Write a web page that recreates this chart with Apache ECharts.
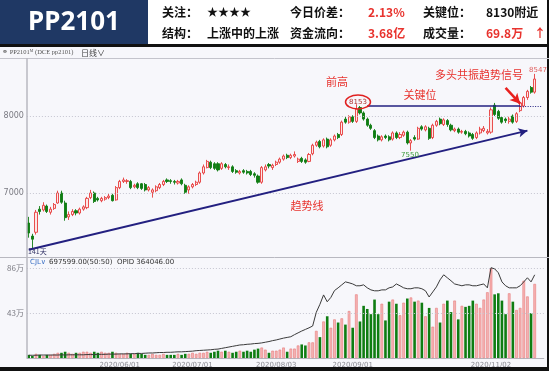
<!DOCTYPE html>
<html><head><meta charset="utf-8">
<script src="https://cdn.jsdelivr.net/npm/echarts@6/dist/echarts.min.js"></script>
<style>html,body{margin:0;padding:0;background:#f7f7fb}#c{width:549px;height:371px}</style>
</head><body><div id="c"></div>
<script>
const dates = [
'2020/04/22','2020/04/23','2020/04/24','2020/04/27','2020/04/28','2020/04/29','2020/04/30',
'2020/05/06','2020/05/07','2020/05/08','2020/05/11','2020/05/12','2020/05/13','2020/05/14','2020/05/15','2020/05/18','2020/05/19','2020/05/20','2020/05/21','2020/05/22','2020/05/25','2020/05/26','2020/05/27','2020/05/28','2020/05/29',
'2020/06/01','2020/06/02','2020/06/03','2020/06/04','2020/06/05','2020/06/08','2020/06/09','2020/06/10','2020/06/11','2020/06/12','2020/06/15','2020/06/16','2020/06/17','2020/06/18','2020/06/19','2020/06/22','2020/06/23','2020/06/24','2020/06/29','2020/06/30',
'2020/07/01','2020/07/02','2020/07/03','2020/07/06','2020/07/07','2020/07/08','2020/07/09','2020/07/10','2020/07/13','2020/07/14','2020/07/15','2020/07/16','2020/07/17','2020/07/20','2020/07/21','2020/07/22','2020/07/23','2020/07/24','2020/07/27','2020/07/28','2020/07/29','2020/07/30','2020/07/31',
'2020/08/03','2020/08/04','2020/08/05','2020/08/06','2020/08/07','2020/08/10','2020/08/11','2020/08/12','2020/08/13','2020/08/14','2020/08/17','2020/08/18','2020/08/19','2020/08/20','2020/08/21','2020/08/24','2020/08/25','2020/08/26','2020/08/27','2020/08/28','2020/08/31',
'2020/09/01','2020/09/02','2020/09/03','2020/09/04','2020/09/07','2020/09/08','2020/09/09','2020/09/10','2020/09/11','2020/09/14','2020/09/15','2020/09/16','2020/09/17','2020/09/18','2020/09/21','2020/09/22','2020/09/23','2020/09/24','2020/09/25','2020/09/28','2020/09/29','2020/09/30',
'2020/10/09','2020/10/12','2020/10/13','2020/10/14','2020/10/15','2020/10/16','2020/10/19','2020/10/20','2020/10/21','2020/10/22','2020/10/23','2020/10/26','2020/10/27','2020/10/28','2020/10/29','2020/10/30',
'2020/11/02','2020/11/03','2020/11/04','2020/11/05','2020/11/06','2020/11/09','2020/11/10','2020/11/11','2020/11/12','2020/11/13','2020/11/16','2020/11/17','2020/11/18'
];
const opens = [6610,6440,6490,6790,6780,6830,6750,6800,6870,7000,6870,6690,6720,6770,6740,6790,6810,6940,7000,6930,6900,6920,6940,6970,6910,7070,7150,7150,7150,7080,7120,7120,7110,7040,7010,7030,7070,7110,7170,7160,7150,7130,7170,7100,7040,7080,7110,7140,7260,7330,7400,7380,7380,7320,7370,7330,7340,7290,7260,7290,7280,7280,7250,7220,7140,7300,7370,7330,7370,7400,7440,7490,7460,7480,7410,7450,7430,7410,7510,7620,7670,7610,7700,7620,7690,7760,7760,7960,7920,7990,7930,8110,8040,7960,7880,7810,7740,7690,7740,7730,7700,7780,7720,7750,7790,7650,7720,7700,7860,7820,7840,7720,7880,7960,7890,7940,7880,7810,7830,7790,7800,7780,7760,7720,7780,7810,7780,7790,8140,8060,7980,7960,7930,8000,7930,8070,8130,8240,8370,8310];
const closes = [6480,6400,6750,6760,6840,6760,6790,6850,7000,6880,6680,6720,6760,6740,6790,6820,6930,7000,6890,6910,6930,6940,6960,6900,7070,7150,7170,7160,7070,7100,7070,7060,7040,7070,7040,7080,7110,7150,7150,7150,7140,7150,7120,7010,7080,7110,7140,7260,7340,7410,7330,7320,7300,7380,7340,7340,7280,7270,7280,7270,7260,7240,7230,7140,7330,7340,7350,7360,7400,7440,7480,7460,7490,7500,7440,7410,7400,7500,7620,7660,7600,7690,7600,7690,7740,7720,7920,7920,7990,7930,8090,8040,7960,7880,7840,7720,7690,7730,7720,7690,7780,7720,7760,7790,7650,7680,7700,7840,7830,7860,7710,7880,7930,7900,7950,7890,7820,7830,7790,7800,7770,7740,7710,7780,7830,7840,7800,8080,8020,7970,7920,7940,7960,7920,8030,8170,8240,8320,8310,8480];
const lows = [6420,6280,6460,6720,6760,6740,6720,6780,6860,6860,6640,6650,6700,6710,6720,6770,6790,6920,6870,6890,6880,6900,6920,6890,6900,7050,7130,7120,7050,7060,7050,7040,7020,7020,6940,7010,7050,7090,7130,7120,7110,7110,7100,6990,6990,7060,7090,7120,7240,7320,7310,7300,7280,7300,7320,7300,7260,7250,7240,7250,7240,7220,7200,7120,7120,7280,7320,7300,7350,7380,7420,7440,7440,7460,7390,7390,7380,7400,7490,7600,7580,7590,7580,7600,7670,7700,7740,7900,7900,7910,7910,8020,7940,7860,7820,7700,7670,7670,7700,7670,7680,7700,7700,7730,7630,7550,7680,7690,7810,7800,7690,7700,7860,7880,7870,7860,7800,7790,7770,7770,7750,7720,7690,7700,7760,7790,7760,7770,8000,7950,7900,7910,7900,7900,7910,8050,8110,8210,8290,8290];
const highs = [6690,6470,6780,6830,6880,6850,6820,6870,7030,7030,6900,6760,6790,6790,6810,6840,6950,7040,7020,6950,6950,6960,6990,6990,7090,7170,7200,7180,7170,7120,7140,7130,7130,7090,7060,7100,7130,7170,7190,7180,7170,7170,7190,7120,7100,7130,7160,7280,7370,7430,7420,7400,7400,7400,7390,7370,7360,7310,7300,7310,7300,7300,7270,7240,7350,7370,7390,7380,7420,7460,7500,7510,7510,7540,7460,7470,7450,7520,7640,7680,7690,7710,7720,7710,7760,7780,7940,7990,8010,8010,8153,8130,8060,7980,7900,7830,7760,7750,7760,7750,7800,7800,7790,7810,7810,7700,7750,7860,7880,7880,7860,7900,7950,7980,7970,7960,7900,7850,7850,7820,7820,7800,7780,7800,7860,7870,7830,8110,8170,8080,8000,7980,7990,8020,8050,8190,8260,8340,8390,8547];
const volumes = [3,2,4,3,2,3,3,4,5,5,6,5,4,5,5,6,6,5,6,5,6,5,5,6,5,4,4,5,4,4,5,4,3,3,4,3,3,4,3,3,3,4,3,4,4,5,4,5,5,6,5,6,7,6,7,6,5,6,7,6,7,6,8,9,10,8,
5,7,7,8,10,6,9,9,12,13,12,15,15,26,20,35,40,29,37,34,38,32,45,29,61,35,50,47,42,56,42,52,36,54,56,52,41,53,57,58,54,55,53,40,48,30,48,34,52,55,44,55,37,50,49,50,55,52,48,56,63,86,61,62,55,42,62,54,46,48,74,59,43,71];
const openInterest = [1.2,1.2,1.2,1.3,1.3,1.3,1.3,1.3,1.3,1.4,1.3,1.4,1.4,1.4,1.4,1.4,1.5,1.5,1.5,1.6,1.6,1.6,1.7,1.7,1.7,1.8,1.8,1.8,1.9,1.9,2.0,2.0,2.1,2.2,2.2,2.3,2.4,2.4,2.5,2.5,2.6,2.7,2.7,2.8,2.9,3.0,3.2,3.3,3.4,3.5,3.6,3.8,3.9,4.2,4.5,4.8,5.1,5.4,5.7,5.8,6.0,6.1,6.3,6.4,6.6,6.9,7.2,7.6,7.9,8.3,8.7,9.0,9.3,10.2,11.0,11.8,12.5,13.2,14.0,20.0,23.5,27.6,24.6,26.5,29.5,30.7,32.0,33.3,32.9,32.4,31.6,31.6,32.0,30.7,29.8,29.4,29.4,29.8,29.8,30.7,31.1,32.4,31.6,30.7,30.3,30.3,30.7,30.7,30.3,29.4,26.7,28.9,31.1,34.2,36.4,35.1,33.8,32.4,32.0,31.6,32.0,32.0,31.6,31.6,32.0,32.4,30.7,39.5,39.0,37.3,33.3,31.6,30.7,30.7,30.7,31.6,33.3,35.1,33.3,36.4];
const priceTicks = [7000, 8000];
const volTicks = [43, 86];
const dateLabels = ['2020/06/01','2020/07/01','2020/08/03','2020/09/01','2020/11/02'];
const keyLevel = 8130;
const trendStart = [0, 6262];
const trendEnd = [137, 7810];

const cats = dates.concat(['', '']);
const RED = '#e8332e';
const CJK = '"Noto Sans CJK SC","Noto Sans",sans-serif';

const chart = echarts.init(document.getElementById('c'), null, {renderer: 'canvas'});
const candleData = dates.map((d, i) => [opens[i], closes[i], lows[i], highs[i]]);
const volData = volumes.map((v, i) => ({
  value: v,
  itemStyle: closes[i] >= opens[i]
    ? {color: '#f6b4b4', borderColor: '#e77b7b', borderWidth: 0.6}
    : {color: '#0f7d12'}
}));

function txt(x, y, text, size, fill, align, weight, font) {
  return {type: 'text', z: 100, silent: true,
    style: {x, y, text, fill, textAlign: align || 'left', textVerticalAlign: 'middle',
      font: (weight || 'normal') + ' ' + size + 'px ' + (font || CJK)}};
}

const option = {
  animation: false,
  backgroundColor: '#f7f7fb',
  grid: [
    {left: 26.9, width: 516.9, top: 39, height: 231, containLabel: false},
    {left: 26.9, width: 516.9, top: 262, height: 96, containLabel: false}
  ],
  xAxis: [
    {type: 'category', gridIndex: 0, data: cats, show: false},
    {type: 'category', gridIndex: 1, data: cats,
      axisLine: {show: true, lineStyle: {color: '#b4b4bc'}},
      axisTick: {show: false}, splitLine: {show: false},
      axisLabel: {interval: (idx, val) => dateLabels.includes(val), fontSize: 7, color: '#8a8a92', margin: 4,
        fontFamily: 'DejaVu Sans'}}
  ],
  yAxis: [
    {type: 'value', gridIndex: 0, min: 6000, max: 9000, interval: 1000, scale: false,
      axisLine: {show: false}, axisTick: {show: false}, splitLine: {show: false},
      axisLabel: {fontSize: 8, color: '#7a7a82', margin: 3, showMinLabel: false, showMaxLabel: false,
        formatter: v => String(v), fontFamily: 'DejaVu Sans'}},
    {type: 'value', gridIndex: 1, min: 0, max: 92, interval: 43,
      axisLine: {show: false}, axisTick: {show: false}, splitLine: {show: false},
      axisLabel: {fontSize: 8, color: '#7a7a82', margin: 3, showMinLabel: false, showMaxLabel: false,
        formatter: v => v + '万', fontFamily: CJK}},
    {type: 'value', gridIndex: 1, min: 0, max: 42, show: false, splitLine: {show: false}}
  ],
  series: [
    {type: 'candlestick', xAxisIndex: 0, yAxisIndex: 0, data: candleData, barWidth: 2.6,
      itemStyle: {color: '#fde6e6', color0: '#0f7d12', borderColor: '#e63b3b', borderColor0: '#0f7d12', borderWidth: 0.9},
      markLine: {silent: true, animation: false, symbol: 'none', label: {show: false},
        data: [
          ...priceTicks.map(p => ({yAxis: p, lineStyle: {type: [1, 2], color: '#c6c6d0', width: 1}})),
          [{coord: trendStart, symbol: 'none'}, {coord: trendEnd, symbol: 'arrow', symbolSize: [7, 9],
            lineStyle: {color: '#232080', width: 2, type: 'solid'}}],
          [{coord: [93, keyLevel], symbol: 'none'}, {coord: [135, keyLevel], symbol: 'none',
            lineStyle: {color: '#232080', width: 1.5, type: 'solid'}}],
          [{coord: [135, keyLevel], symbol: 'none'}, {coord: [141, keyLevel], symbol: 'none',
            lineStyle: {color: '#232080', width: 1, type: [1, 1.5]}}],
          [{coord: [131, 8364], symbol: 'none'}, {coord: [135, 8160], symbol: 'arrow', symbolSize: [8, 10],
            lineStyle: {color: '#e8201e', width: 2.5, type: 'solid'}}]
        ]}
    },
    {type: 'bar', xAxisIndex: 1, yAxisIndex: 1, data: volData, barWidth: 2.6,
      markLine: {silent: true, animation: false, symbol: 'none', label: {show: false},
        data: volTicks.map(v => ({yAxis: v, lineStyle: {type: [1, 2], color: '#c6c6d0', width: 1}}))}
    },
    {type: 'line', xAxisIndex: 1, yAxisIndex: 2, data: openInterest, symbol: 'none',
      lineStyle: {color: '#3a3a3a', width: 1}, z: 5}
  ],
  graphic: {elements: [
    {type: 'rect', z: 90, silent: true, shape: {x: 0, y: 0, width: 549, height: 44}, style: {fill: '#ffffff'}},
    {type: 'rect', z: 91, silent: true, shape: {x: 0, y: 0, width: 148, height: 44}, style: {fill: '#1f3864'}},
    {type: 'rect', z: 91, silent: true, shape: {x: 0, y: 44, width: 549, height: 3}, style: {fill: '#111111'}},
    {type: 'rect', z: 91, silent: true, shape: {x: 0, y: 367, width: 549, height: 4}, style: {fill: '#111111'}},
    {type: 'rect', z: 91, silent: true, shape: {x: 547, y: 0, width: 2, height: 371}, style: {fill: '#111111'}},
    txt(74, 23, 'PP2101', 26, '#ffffff', 'center', 'bold', '"Noto Sans",sans-serif'),
    txt(162, 12, '关注：', 12, '#111', 'left', 'bold'),
    txt(207, 12, '★★★★', 11, '#111', 'left', 'bold'),
    txt(290, 12, '今日价差：', 12, '#111', 'left', 'bold'),
    txt(368, 12, '2.13%', 12, RED, 'left', 'bold'),
    txt(423, 12, '关键位：', 12, '#111', 'left', 'bold'),
    txt(486, 12, '8130附近', 12, '#111', 'left', 'bold'),
    txt(162, 33, '结构：', 12, '#111', 'left', 'bold'),
    txt(207, 33, '上涨中的上涨', 12, '#111', 'left', 'bold'),
    txt(290, 33, '资金流向：', 12, '#111', 'left', 'bold'),
    txt(368, 33, '3.68亿', 12, RED, 'left', 'bold'),
    txt(423, 33, '成交量：', 12, '#111', 'left', 'bold'),
    txt(486, 33, '69.8万', 12, RED, 'left', 'bold'),
    txt(540, 33, '↑', 12, RED, 'center', 'bold'),
    {type: 'line', z: 95, silent: true, shape: {x1: 0, y1: 58.5, x2: 549, y2: 58.5}, style: {stroke: '#c4c4cc', lineWidth: 1}},
    {type: 'line', z: 95, silent: true, shape: {x1: 0, y1: 257.5, x2: 549, y2: 257.5}, style: {stroke: '#b8b8c0', lineWidth: 1}},
    {type: 'line', z: 95, silent: true, shape: {x1: 27, y1: 58, x2: 27, y2: 358}, style: {stroke: '#b8b8c0', lineWidth: 1.5}},
    txt(2, 52.5, '⚭ PP2101ᴹ (DCE pp2101)', 6.5, '#555', 'left', 'normal', '"Liberation Serif",serif'),
    txt(81, 52.5, '日线∨', 8, '#444', 'left'),
    txt(30, 262, 'CJL∨', 7, '#3a6fc4', 'left', 'normal', '"DejaVu Sans",sans-serif'),
    txt(49, 262, '697599.00(50:50)  OPID 364046.00', 7, '#333', 'left', 'normal', '"DejaVu Sans",sans-serif'),
    txt(337, 82, '前高', 11, RED, 'center'),
    txt(420, 95, '关键位', 11, RED, 'center'),
    txt(435, 75, '多头共振趋势信号', 11, RED, 'left'),
    txt(307, 206, '趋势线', 11, RED, 'center'),
    {type: 'ellipse', z: 100, silent: true, shape: {cx: 358, cy: 102, rx: 12.5, ry: 7}, style: {fill: 'none', stroke: '#e02020', lineWidth: 1.5}},
    txt(358, 102, '8153', 7, '#b03030', 'center', 'normal', '"DejaVu Sans",sans-serif'),
    txt(538, 70, '8547', 7, '#e06060', 'center', 'normal', '"DejaVu Sans",sans-serif'),
    txt(410, 155, '7550', 7, '#3a9a3a', 'center', 'normal', '"DejaVu Sans",sans-serif'),
    txt(28, 251, '141天', 7, '#333366', 'left')
  ]}
};
chart.setOption(option);
</script></body></html>
